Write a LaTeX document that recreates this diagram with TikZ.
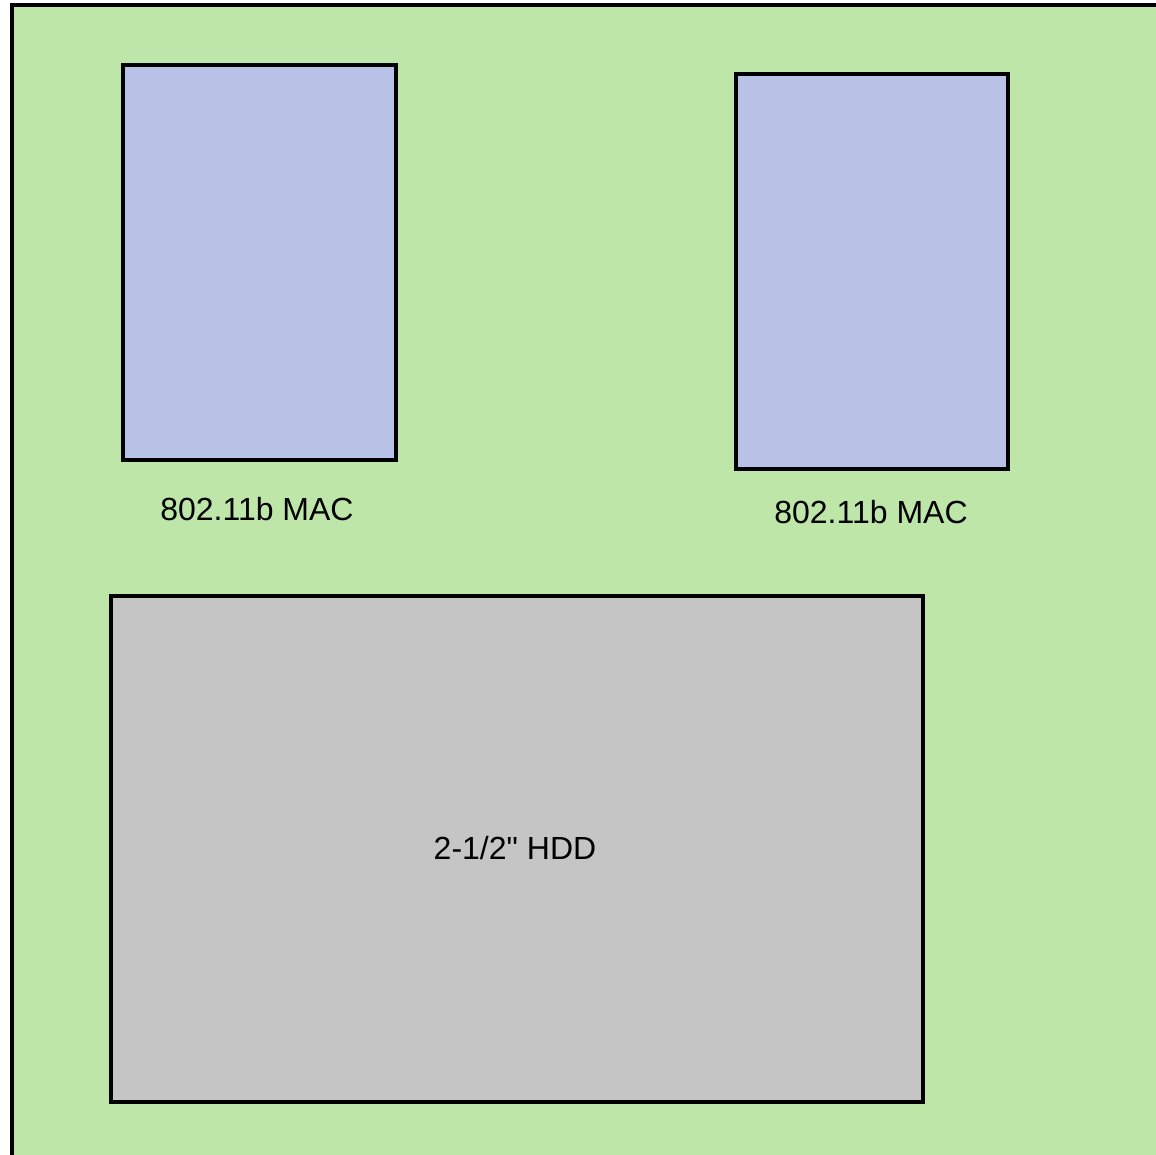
\documentclass[tikz,border=0pt]{standalone}
\usepackage{fontspec}
\setmainfont{Liberation Sans}[Ligatures=TeXOff]
\definecolor{boardgreen}{HTML}{BEE6A8}
\definecolor{macblue}{HTML}{B8C1E6}
\definecolor{hddgray}{HTML}{C5C5C5}
\begin{document}
\begin{tikzpicture}[x=1pt,y=-1pt,
  blk/.style={draw=black,line width=3.2pt},
  lbl/.style={inner sep=0pt,font=\fontsize{32}{38}\selectfont}]
\useasboundingbox (0,0) rectangle (1156,1155);
\begin{scope}
\clip (0,0) rectangle (1156,1155);
\fill[white] (0,0) rectangle (1156,1155);
\draw[blk,fill=boardgreen] (12,5) rectangle (1180,1180);
\end{scope}
\draw[blk,fill=macblue] (123,65) rectangle (396,460);
\draw[blk,fill=macblue] (736,74) rectangle (1008,469);
\draw[blk,fill=hddgray] (111,596) rectangle (923,1102);
\node[lbl] (mac1) at (257,509) {802.11b MAC};
\node[lbl] (mac2) at (871,512) {802.11b MAC};
\node[lbl] (hdd) at (515,848) {2-1/2" HDD};
\end{tikzpicture}
\end{document}
